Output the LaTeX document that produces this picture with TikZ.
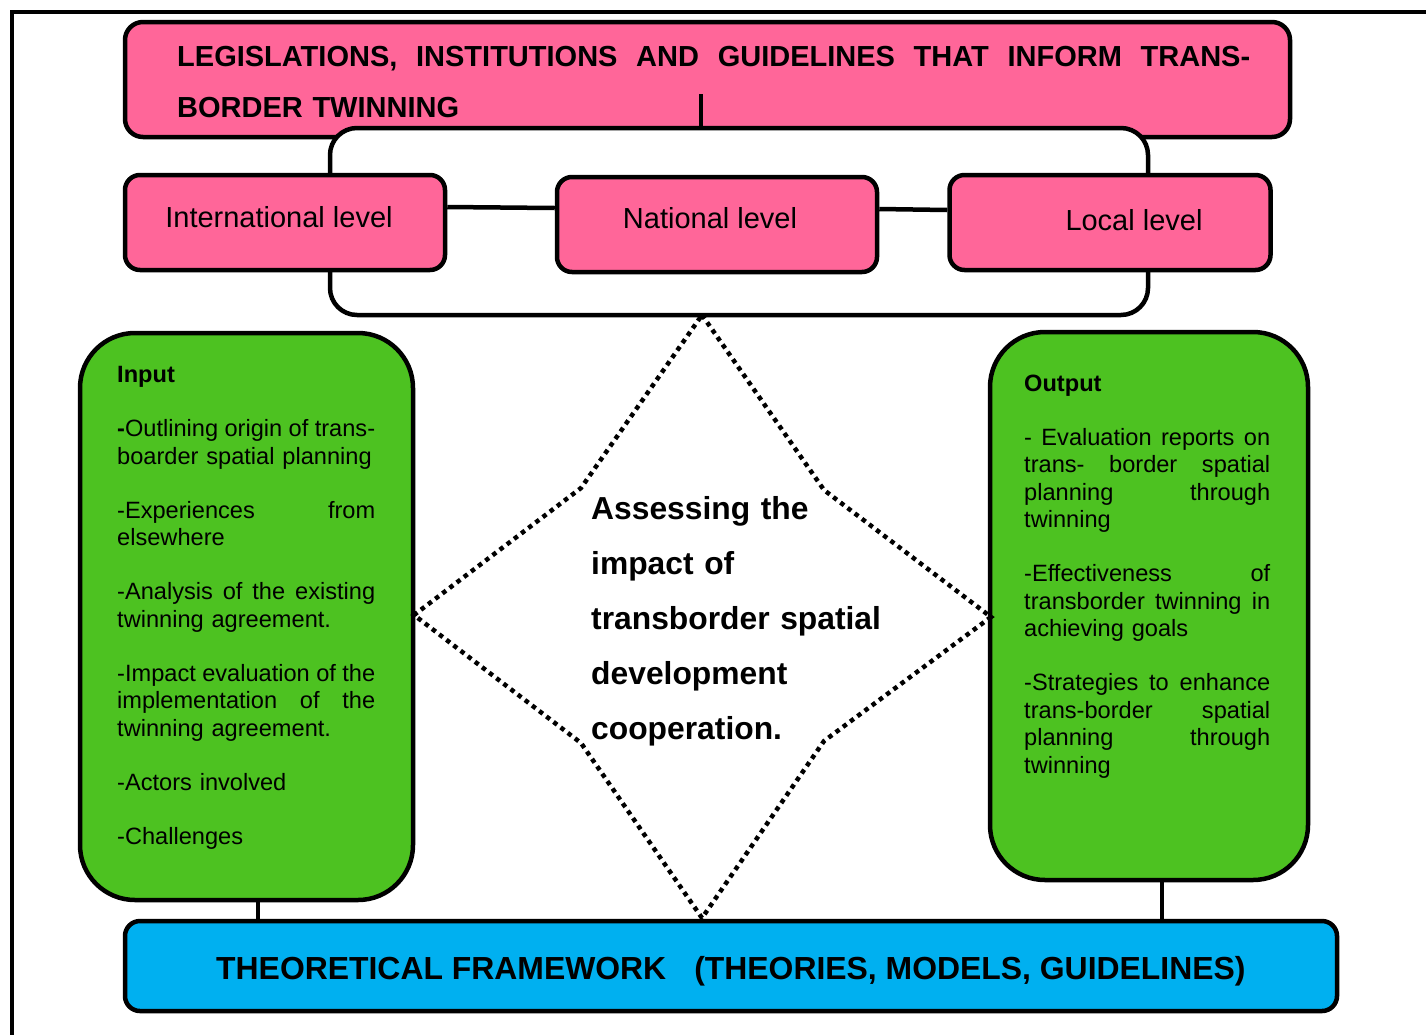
\documentclass[tikz,border=0pt]{standalone}
\usepackage{fontspec}
\setmainfont{Liberation Sans}
\definecolor{pinkbox}{HTML}{FF6699}
\definecolor{greenbox}{HTML}{4DC221}
\definecolor{bluebox}{HTML}{00B0F0}
\newcommand{\jst}[2]{\makebox[#1][s]{#2}}
\begin{document}
\begin{tikzpicture}[x=1pt,y=-1pt,
  box/.style={draw=black, line width=4.5pt, inner sep=0pt, rounded corners=#1},
  conn/.style={draw=black, line width=4.5pt},
  txt/.style={inner sep=0pt, anchor=base west, align=left},
  lvltxt/.style={inner sep=0pt, anchor=base, font=\fontsize{29}{34}\selectfont},
  starline/.style={draw=black, line width=4.5pt, dash pattern=on 4.5pt off 4.5pt}]
\clip (0,0) rectangle (1426,1034);
\fill[white] (0,0) rectangle (1426,1034);
% outer frame
\draw[line width=3.5pt] (12,1050) -- (12,12) -- (1450,12);
% title box
\node[box=18pt, fill=pinkbox, minimum width=1165pt, minimum height=115pt] (title) at (707.5,79.5) {};
\node[txt, text width=1073pt, font=\bfseries\fontsize{29}{51}\selectfont] (titleT) at (177,66)
  {\jst{1073pt}{LEGISLATIONS,\hfill INSTITUTIONS\hfill AND\hfill GUIDELINES\hfill THAT\hfill INFORM\hfill TRANS-}\\BORDER TWINNING};
% white frame
\node[box=27pt, fill=white, minimum width=818pt, minimum height=187pt] (frame) at (739,221.5) {};
\coordinate (tick) at (701,94);
\draw[conn] (tick) -- (tick |- frame.north);
% level boxes
\node[box=15pt, fill=pinkbox, minimum width=320pt, minimum height=95pt] (intl) at (285,222.5) {};
\node[box=15pt, fill=pinkbox, minimum width=320pt, minimum height=95pt] (natl) at (717,224.5) {};
\node[box=15pt, fill=pinkbox, minimum width=321pt, minimum height=95pt] (locl) at (1110,222.5) {};
\node[lvltxt] (intlT) at (279,227) {International level};
\node[lvltxt] (natlT) at (710,228) {National level};
\node[lvltxt] (loclT) at (1134,230) {Local level};
\draw[conn] ([yshift=15.5pt]intl.east) -- ([yshift=16.5pt]natl.west);
\draw[conn] ([yshift=15.5pt]natl.east) -- ([yshift=12.5pt]locl.west);
% input / output
\node[box=55pt, fill=greenbox, minimum width=333pt, minimum height=567pt] (input) at (246.5,616.5) {};
\node[box=55pt, fill=greenbox, minimum width=318pt, minimum height=548pt] (output) at (1149,606) {};
\node[txt, text width=258pt, font=\fontsize{23.6}{27.5}\selectfont] (inT) at (117,382) {%
\textbf{Input}\\[27pt]
\jst{258pt}{\textbf{-}Outlining\hfill origin\hfill of\hfill trans-}\\
boarder spatial planning\\[26.5pt]
\jst{258pt}{-Experiences\hfill from}\\
elsewhere\\[26.5pt]
\jst{258pt}{-Analysis\hfill of\hfill the\hfill existing}\\
twinning agreement.\\[26.5pt]
\jst{258pt}{-Impact\hfill evaluation\hfill of\hfill the}\\
\jst{258pt}{implementation\hfill of\hfill the}\\
twinning agreement.\\[26.5pt]
-Actors involved\\[26.5pt]
-Challenges};
\node[txt, text width=246pt, font=\fontsize{23.6}{27.5}\selectfont] (outT) at (1024,391) {%
\textbf{Output}\\[26.5pt]
\jst{246pt}{-\hfill Evaluation\hfill reports\hfill on}\\
\jst{246pt}{trans-\hfill border\hfill spatial}\\
\jst{246pt}{planning\hfill through}\\
twinning\\[26.5pt]
\jst{246pt}{-Effectiveness\hfill of}\\
\jst{246pt}{transborder\hfill twinning\hfill in}\\
achieving goals\\[26.5pt]
\jst{246pt}{-Strategies\hfill to\hfill enhance}\\
\jst{246pt}{trans-border\hfill spatial}\\
\jst{246pt}{planning\hfill through}\\
twinning};
% dotted star
\coordinate (sT) at (702,315);
\coordinate (sUR) at (824,490);
\coordinate (sR) at (991,617);
\coordinate (sLR) at (824,741);
\coordinate (sB) at (702,918);
\coordinate (sLL) at (581,743);
\coordinate (sL) at (414,615);
\coordinate (sUL) at (581,488);
\draw[starline] (sT) -- (sUR) -- (sR) -- (sLR) -- (sB) -- (sLL) -- (sL) -- (sUL) -- cycle;
\node[txt, text width=300pt, font=\bfseries\fontsize{31.8}{55}\selectfont] (centerT) at (591,519)
  {Assessing the\\impact of\\transborder spatial\\development\\cooperation.};
% base box
\node[box=15pt, fill=bluebox, minimum width=1212pt, minimum height=90pt] (base) at (731,966) {};
\node[txt, font=\bfseries\fontsize{31.9}{38}\selectfont] (baseT) at (216,979)
  {THEORETICAL FRAMEWORK\hspace{28pt}(THEORIES, MODELS, GUIDELINES)};
\coordinate (ic) at (258,0);
\coordinate (oc) at (1162,0);
\draw[conn] (ic |- input.south) -- (ic |- base.north);
\draw[conn] (oc |- output.south) -- (oc |- base.north);
\end{tikzpicture}
\end{document}
